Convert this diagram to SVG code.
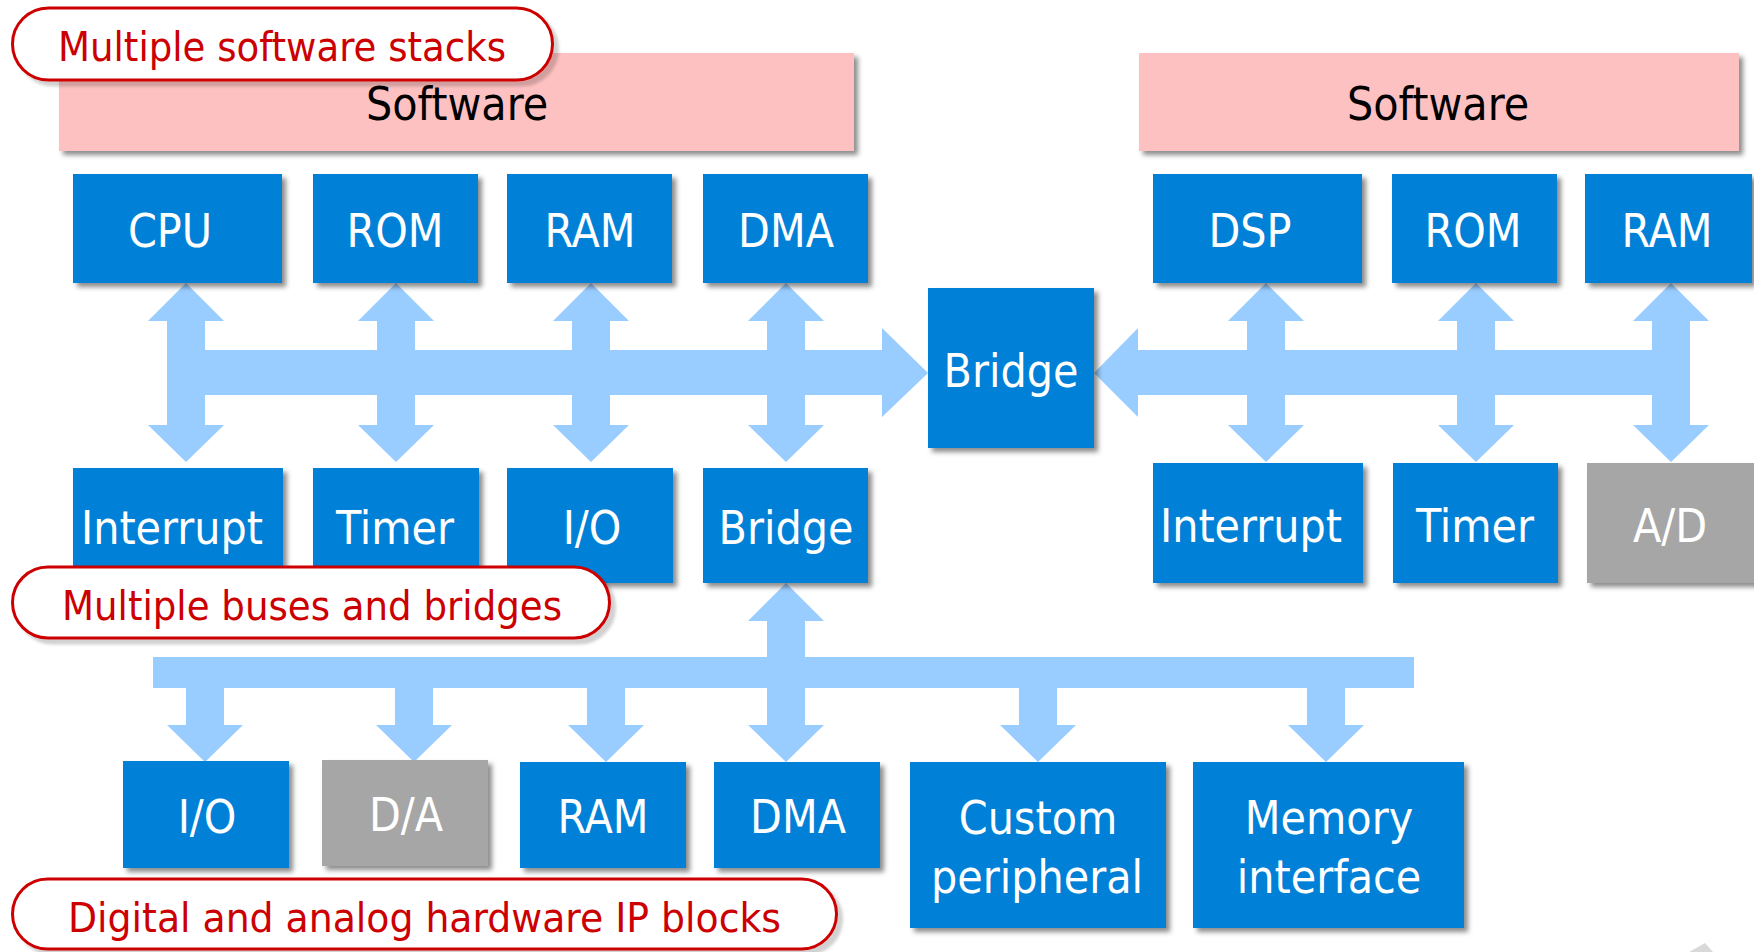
<svg xmlns="http://www.w3.org/2000/svg" width="1754" height="952" viewBox="0 0 1754 952">
  <defs>
    <filter id="shadow" x="-10%" y="-10%" width="130%" height="130%">
      <feDropShadow dx="4" dy="4" stdDeviation="2.5" flood-color="#000" flood-opacity="0.45"/>
    </filter>
    <filter id="calloutShadow" x="-5%" y="-10%" width="115%" height="130%">
      <feDropShadow dx="5" dy="5" stdDeviation="1.5" flood-color="#000" flood-opacity="0.18"/>
    </filter>
  </defs>
  <style>
    text { font-family: "DejaVu Sans Condensed", "DejaVu Sans", sans-serif; font-stretch: condensed; }
    .blk { fill: #0281D7; filter: url(#shadow); }
    .gry { fill: #A6A6A6; filter: url(#shadow); }
    .sw { fill: #FEC1C1; filter: url(#shadow); }
    .lbl { fill: #FFFFFF; font-size: 46px; text-anchor: middle; }
    .swl { fill: #000000; font-size: 46px; text-anchor: middle; }
    .bus { fill: #99CCFF; }
    .callout rect { fill: #FFFFFF; stroke: #CC0000; stroke-width: 3; filter: url(#calloutShadow); }
    .callout text { fill: #CC0000; font-size: 41px; }
  </style>

  <!-- software layers -->
  <g id="sw-left">
    <rect class="sw" x="59" y="53" width="795" height="98"/>
    <text class="swl" x="457" y="120">Software</text>
  </g>
  <g id="sw-right">
    <rect class="sw" x="1139" y="53" width="600" height="98"/>
    <text class="swl" x="1438" y="120">Software</text>
  </g>

  <!-- buses and arrows -->
  <g id="connectors" class="bus">
    <!-- left subsystem bus -->
    <rect x="167" y="350" width="717" height="45"/>
    <polygon points="882,328 928,373 882,417"/>
    <path d="M167,321 h38 v104 h-38 z M148,321 L186,283 L224,321 z M148,425 L186,462 L224,425 z"/>
    <path d="M377,321 h38 v104 h-38 z M358,321 L396,283 L434,321 z M358,425 L396,462 L434,425 z"/>
    <path d="M572,321 h38 v104 h-38 z M553,321 L591,283 L629,321 z M553,425 L591,462 L629,425 z"/>
    <path d="M767,321 h38 v104 h-38 z M748,321 L786,283 L824,321 z M748,425 L786,462 L824,425 z"/>

    <!-- right subsystem bus -->
    <rect x="1137" y="350" width="553" height="45"/>
    <polygon points="1138,328 1094,373 1138,417"/>
    <path d="M1247,321 h38 v104 h-38 z M1228,321 L1266,283 L1304,321 z M1228,425 L1266,462 L1304,425 z"/>
    <path d="M1457,321 h38 v104 h-38 z M1438,321 L1476,283 L1514,321 z M1438,425 L1476,462 L1514,425 z"/>
    <path d="M1652,321 h38 v104 h-38 z M1633,321 L1671,283 L1709,321 z M1633,425 L1671,462 L1709,425 z"/>

    <!-- peripheral bus -->
    <rect x="153" y="657" width="1261" height="31"/>
    <path d="M767,621 h38 v104 h-38 z M748,621 L786,583 L824,621 z M748,725 L786,762 L824,725 z"/>
    <path d="M186,686 h38 v39 h-38 z M167,725 L205,762 L243,725 z"/>
    <path d="M395,686 h38 v39 h-38 z M376,725 L414,762 L452,725 z"/>
    <path d="M587,686 h38 v39 h-38 z M568,725 L606,762 L644,725 z"/>
    <path d="M1019,686 h38 v39 h-38 z M1000,725 L1038,762 L1076,725 z"/>
    <path d="M1307,686 h38 v39 h-38 z M1288,725 L1326,762 L1364,725 z"/>
  </g>

  <!-- left subsystem blocks -->
  <g id="cpu"><rect class="blk" x="73" y="174" width="209" height="109"/><text class="lbl" x="170" y="247">CPU</text></g>
  <g id="rom-l"><rect class="blk" x="313" y="174" width="165" height="109"/><text class="lbl" x="395" y="247">ROM</text></g>
  <g id="ram-l"><rect class="blk" x="507" y="174" width="165" height="109"/><text class="lbl" x="590" y="247">RAM</text></g>
  <g id="dma-l"><rect class="blk" x="703" y="174" width="165" height="109"/><text class="lbl" x="786" y="247">DMA</text></g>
  <g id="int-l"><rect class="blk" x="73" y="468" width="210" height="115"/><text class="lbl" x="172" y="544">Interrupt</text></g>
  <g id="timer-l"><rect class="blk" x="313" y="468" width="166" height="115"/><text class="lbl" x="395" y="544">Timer</text></g>
  <g id="io-l"><rect class="blk" x="507" y="468" width="166" height="115"/><text class="lbl" x="592" y="544">I/O</text></g>
  <g id="bridge-l"><rect class="blk" x="703" y="468" width="165" height="115"/><text class="lbl" x="786" y="544">Bridge</text></g>

  <!-- central bridge -->
  <g id="bridge-c"><rect class="blk" x="928" y="288" width="166" height="160"/><text class="lbl" x="1011" y="387">Bridge</text></g>

  <!-- right subsystem blocks -->
  <g id="dsp"><rect class="blk" x="1153" y="174" width="209" height="109"/><text class="lbl" x="1250" y="247">DSP</text></g>
  <g id="rom-r"><rect class="blk" x="1392" y="174" width="165" height="109"/><text class="lbl" x="1473" y="247">ROM</text></g>
  <g id="ram-r"><rect class="blk" x="1585" y="174" width="167" height="109"/><text class="lbl" x="1667" y="247">RAM</text></g>
  <g id="int-r"><rect class="blk" x="1153" y="463" width="210" height="120"/><text class="lbl" x="1251" y="542">Interrupt</text></g>
  <g id="timer-r"><rect class="blk" x="1393" y="463" width="165" height="120"/><text class="lbl" x="1475" y="542">Timer</text></g>
  <g id="ad"><rect class="gry" x="1587" y="463" width="170" height="120"/><text class="lbl" x="1670" y="542">A/D</text></g>

  <!-- peripheral blocks -->
  <g id="io-b"><rect class="blk" x="123" y="761" width="166" height="107"/><text class="lbl" x="207" y="833">I/O</text></g>
  <g id="da"><rect class="gry" x="322" y="760" width="166" height="106"/><text class="lbl" x="406" y="831">D/A</text></g>
  <g id="ram-b"><rect class="blk" x="520" y="762" width="166" height="106"/><text class="lbl" x="603" y="833">RAM</text></g>
  <g id="dma-b"><rect class="blk" x="714" y="762" width="166" height="106"/><text class="lbl" x="798" y="833">DMA</text></g>
  <g id="custom"><rect class="blk" x="910" y="762" width="256" height="166"/><text class="lbl" x="1038" y="834">Custom</text><text class="lbl" x="1037" y="893">peripheral</text></g>
  <g id="memif"><rect class="blk" x="1193" y="762" width="271" height="166"/><text class="lbl" x="1329" y="834">Memory</text><text class="lbl" x="1329" y="893">interface</text></g>

  <!-- callouts -->
  <g id="callout-sw" class="callout">
    <rect x="12.5" y="8" width="540" height="72" rx="36"/>
    <text x="58" y="61" textLength="448" lengthAdjust="spacingAndGlyphs">Multiple software stacks</text>
  </g>
  <g id="callout-bus" class="callout">
    <rect x="12.5" y="567" width="597" height="71" rx="35.5"/>
    <text x="62" y="620" textLength="500" lengthAdjust="spacingAndGlyphs">Multiple buses and bridges</text>
  </g>
  <g id="callout-ip" class="callout">
    <rect x="12.5" y="879" width="824" height="70" rx="35"/>
    <text x="68" y="932" textLength="713" lengthAdjust="spacingAndGlyphs">Digital and analog hardware IP blocks</text>
  </g>

  <!-- corner fragment -->
  <polygon points="1705,943 1713,952 1689,952" fill="#D9D9D9"/>
</svg>
